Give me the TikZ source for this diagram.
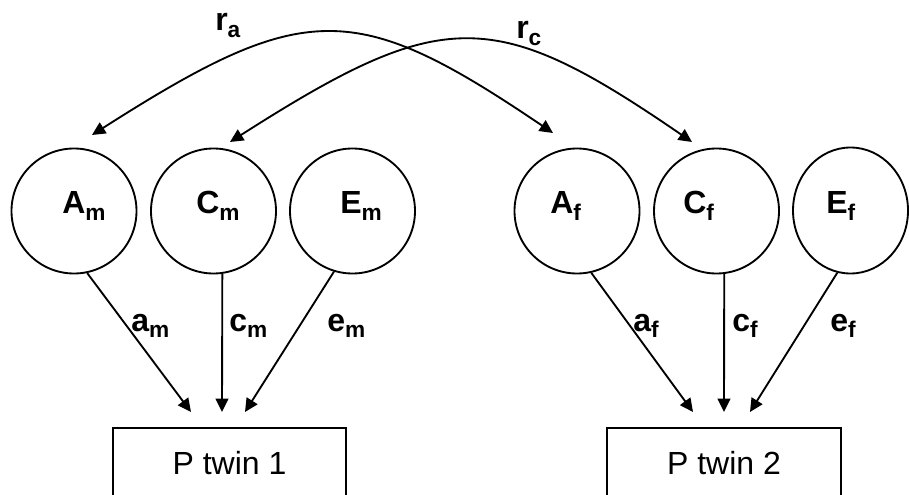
\documentclass[tikz,border=0pt]{standalone}
\usepackage{fontspec}
\setmainfont{Liberation Sans}
\usetikzlibrary{arrows.meta,shapes.geometric}
\newcommand\lowidx[1]{\raisebox{-5pt}{\fontsize{17}{17}\selectfont #1}}
\begin{document}
\begin{tikzpicture}[x=0.75pt,y=0.75pt,yscale=-1,xscale=1,
    latent/.style={circle,draw,line width=1.4pt,minimum size=93.75pt,inner sep=0pt},
    pheno/.style={rectangle,draw,line width=1.4pt,minimum width=175pt,minimum height=53.25pt,inner sep=0pt,font=\fontsize{24}{28}\selectfont},
    sym/.style={anchor=base west,inner sep=0pt,font=\fontsize{24}{28}\selectfont\bfseries},
    loading/.style={line width=1.4pt,-{Triangle[length=10pt,width=9.5pt]}},
    corr/.style={line width=1.4pt,{Triangle[length=10pt,width=9.5pt]}-{Triangle[length=10pt,width=9.5pt]}}]
                \useasboundingbox (0,0) rectangle (909,495);
                % twin 1
                \node [latent] (Am) at (74,211) {};
                \node [latent] (Cm) at (213.5,211) {};
                \node [latent] (Em) at (352.5,211) {};
                \node [sym] (tAm) at (62,214) {A\lowidx{m}};
                \node [sym] (tCm) at (196,214) {C\lowidx{m}};
                \node [sym] (tEm) at (340,214) {E\lowidx{m}};
                \node [pheno] (P1) at (229.5,463.5) {P twin 1};
                % twin 2
                \node [latent] (Af) at (577,211) {};
                \node [latent] (Cf) at (716.5,211) {};
                \node [latent,ellipse,minimum width=86.25pt,minimum height=94.5pt] (Ef) at (850.5,210.5) {};
                \node [sym] (tAf) at (550,214) {A\lowidx{f}};
                \node [sym] (tCf) at (683,214) {C\lowidx{f}};
                \node [sym] (tEf) at (826,214) {E\lowidx{f}};
                \node [pheno] (P2) at (724,463.5) {P twin 2};
                % paths to the phenotypes
                \coordinate (p1a) at (191,412);
                \coordinate (p1c) at (222,412);
                \coordinate (p1e) at (245,412);
                \coordinate (p2a) at (693,412);
                \coordinate (p2c) at (724,412);
                \coordinate (p2e) at (750,412);
                \draw [loading] (Am.-78) -- (p1a);
                \draw [loading] (Cm.-82.3) -- (p1c);
                \draw [loading] (Em.-107.7) -- (p1e);
                \draw [loading] (Af.-77.5) -- (p2a);
                \draw [loading] (Cf.-83.4) -- (p2c);
                \draw [loading] (Ef.-102.6) -- (p2e);
                \node [sym] (la) at (131,331) {a\lowidx{m}};
                \node [sym] (lc) at (229,331) {c\lowidx{m}};
                \node [sym] (le) at (327,331) {e\lowidx{m}};
                \node [sym] (lfa) at (633,331) {a\lowidx{f}};
                \node [sym] (lfc) at (732,331) {c\lowidx{f}};
                \node [sym] (lfe) at (830,331) {e\lowidx{f}};
                % correlations
                \coordinate (raL) at (92,135);
                \coordinate (raR) at (553,133);
                \coordinate (rcL) at (230,142);
                \coordinate (rcR) at (692,142);
                \draw [corr] (raL) .. controls (305,-1) and (355,-1) .. (raR);
                \draw [corr] (rcL) .. controls (443,6) and (494,6) .. (rcR);
                \node [sym] (ra) at (215,31) {r\lowidx{a}};
                \node [sym] (rc) at (516,39) {r\lowidx{c}};
            \end{tikzpicture}
\end{document}
